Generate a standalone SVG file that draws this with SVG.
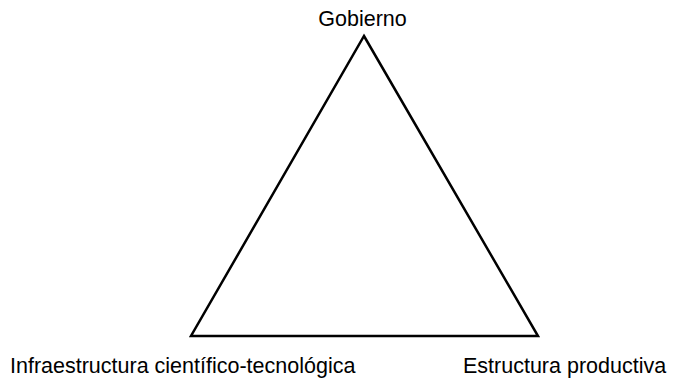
<svg xmlns="http://www.w3.org/2000/svg" width="673" height="378" viewBox="0 0 673 378">
<style>
text{font-family:"Liberation Sans",Arial,sans-serif;font-size:21.5px;fill:#000}
.edge{fill:none;stroke:#000;stroke-width:2.5;stroke-linejoin:miter}
</style>
<rect width="673" height="378" fill="#fff"/>
<g id="connectors">
<path class="edge" d="M364,36 L538,336 L191,336 Z"/>
</g>
<g id="gobierno"><text x="362.5" y="26" text-anchor="middle">Gobierno</text></g>
<g id="infraestructura"><text x="10" y="373">Infraestructura científico-tecnológica</text></g>
<g id="estructura"><text x="463" y="373">Estructura productiva</text></g>
</svg>
